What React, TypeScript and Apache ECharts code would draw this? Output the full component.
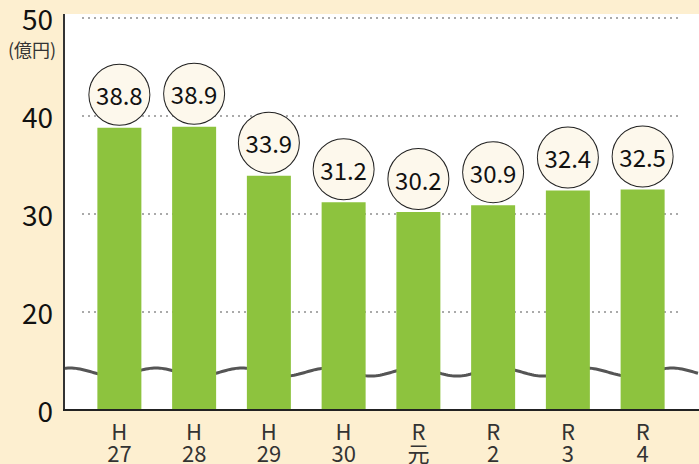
import React, { useEffect, useRef } from "react";
import * as echarts from "echarts";

const categories = ["H\n27", "H\n28", "H\n29", "H\n30", "R\n元", "R\n2", "R\n3", "R\n4"];
const values = [38.8, 38.9, 33.9, 31.2, 30.2, 30.9, 32.4, 32.5];
const unitLabel = "(億円)";
// axis starts at a break: its lowest tick (10) is shown as "0"
const axisMin = 10;
const axisMax = 50;
const axisStep = 10;

const FONT = "'Noto Sans CJK JP', 'Noto Sans', sans-serif";

export default function App() {
  const ref = useRef<HTMLDivElement>(null);
  useEffect(() => {
    document.body.style.margin = "0";
    if (!ref.current) return;
    const chart = echarts.init(ref.current, null, { renderer: "svg" });

    // decorative wavy "axis break" line
    const wavePts: number[][] = [];
    for (let x = 64; x <= 699; x += 2) {
      wavePts.push([x, 372 - 4 * Math.cos((2 * Math.PI * (x - 70)) / 86)]);
    }

    chart.setOption({
      animation: false,
      backgroundColor: "transparent",
      textStyle: { fontFamily: FONT },
      grid: { left: 82, right: 19, top: 18, bottom: 54 },
      xAxis: {
        type: "category",
        data: categories,
        axisLine: { show: false },
        axisTick: { show: false },
        axisLabel: {
          color: "#333",
          fontSize: 22,
          lineHeight: 22,
          margin: 9,
          fontFamily: FONT,
        },
      },
      yAxis: {
        type: "value",
        min: axisMin,
        max: axisMax,
        interval: axisStep,
        offset: 17,
        axisLine: { show: false },
        axisTick: { show: false },
        axisLabel: {
          color: "#111",
          fontSize: 28,
          margin: 12,
          fontFamily: FONT,
          formatter: (v: number) => (v === axisMin ? "0" : String(v)),
        },
        splitLine: {
          show: true,
          lineStyle: { color: "#aaa", width: 2, type: [2, 4] },
        },
      },
      series: [
        {
          type: "bar",
          data: values,
          barWidth: 44,
          z: 5,
          itemStyle: { color: "#8dc33e" },
          label: {
            show: true,
            position: "top",
            distance: 3,
            formatter: "{c}",
            width: 60,
            height: 60,
            lineHeight: 60,
            align: "center",
            padding: 0,
            borderRadius: 30,
            borderColor: "#222",
            borderWidth: 1,
            backgroundColor: "#fdf8ec",
            fontSize: 24,
            color: "#111",
            fontFamily: FONT,
          },
        },
      ],
      graphic: [
        {
          type: "polyline",
          z: 1,
          silent: true,
          shape: { points: wavePts },
          style: { stroke: "#555", lineWidth: 3, fill: "none" },
        },
        {
          type: "line",
          z: 50,
          shape: { x1: 64, y1: 14, x2: 64, y2: 411 },
          style: { stroke: "#333", lineWidth: 2 },
        },
        {
          type: "line",
          z: 50,
          shape: { x1: 63, y1: 410, x2: 699, y2: 410 },
          style: { stroke: "#222", lineWidth: 2 },
        },
        {
          type: "text",
          z: 50,
          x: 32,
          y: 49,
          style: {
            text: unitLabel,
            fontSize: 18,
            fill: "#333",
            fontFamily: FONT,
            align: "center",
            verticalAlign: "middle",
          },
        },
      ],
    });
    return () => chart.dispose();
  }, []);

  return (
    <div style={{ position: "relative", width: 699, height: 464, background: "#fdefd0" }}>
      <div
        style={{ position: "absolute", left: 65, top: 14, width: 634, height: 396, background: "#ffffff" }}
      />
      <div ref={ref} style={{ position: "absolute", left: 0, top: 0, width: 699, height: 464 }} />
    </div>
  );
}
